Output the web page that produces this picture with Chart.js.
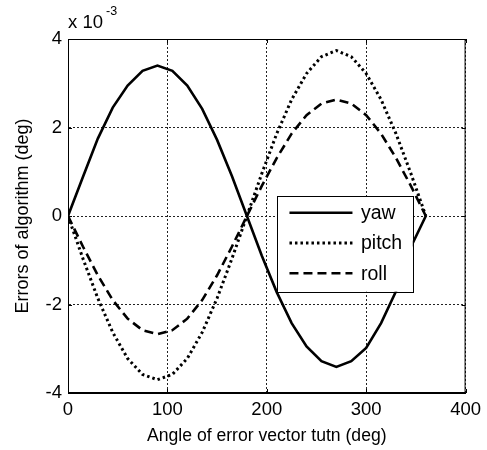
<!DOCTYPE html>
<html>
<head>
<meta charset="utf-8">
<script src="https://cdn.jsdelivr.net/npm/chart.js@4"></script>
<style>
  html, body { margin: 0; padding: 0; background: #fff; }
  #wrap { width: 487px; height: 450px; }
</style>
</head>
<body>
<div id="wrap"><canvas id="errChart" width="487" height="450"></canvas></div>
<script>
// angle of error vector turn (deg)
const angles = [0, 15, 30, 45, 60, 75, 90, 105, 120, 135, 150, 165, 180,
                195, 210, 225, 240, 255, 270, 285, 300, 315, 330, 345, 360];
// errors, in units of 1e-3 deg
const yaw = [0, 0.88, 1.75, 2.45, 2.95, 3.28, 3.4, 3.28, 2.95, 2.42, 1.72, 0.9, 0,
             -0.9, -1.72, -2.42, -2.95, -3.28, -3.41, -3.28, -2.98, -2.42, -1.7, -0.7, 0];
const pitch = [0, -0.96, -1.86, -2.63, -3.22, -3.58, -3.7, -3.58, -3.22, -2.63, -1.86, -0.96, 0,
               0.96, 1.86, 2.63, 3.22, 3.6, 3.74, 3.6, 3.22, 2.63, 1.86, 0.96, 0];
const roll = [0, -0.69, -1.34, -1.9, -2.32, -2.58, -2.67, -2.58, -2.32, -1.9, -1.34, -0.69, 0,
              0.68, 1.31, 1.86, 2.28, 2.54, 2.63, 2.54, 2.28, 1.86, 1.31, 0.68, 0];
const xTicks = [0, 100, 200, 300, 400];
const yTicks = [-4, -2, 0, 2, 4];

const font = 'Liberation Sans, Arial, sans-serif';

const toPts = (ys) => angles.map((a, i) => ({ x: a, y: ys[i] }));

const series = [
  { label: 'yaw', data: yaw, dash: [], width: 2.6 },
  { label: 'pitch', data: pitch, dash: [2.5, 3], width: 3 },
  { label: 'roll', data: roll, dash: [9, 5], width: 2.6 }
];

// box, inward ticks, exponent label and legend, matlab style
const matlabBits = {
  id: 'matlabBits',
  afterDatasetsDraw(chart) {
    const { ctx, chartArea: a, scales } = chart;
    ctx.save();
    ctx.strokeStyle = '#000';
    ctx.lineWidth = 1;
    ctx.setLineDash([]);
    ctx.strokeRect(a.left + 0.5, a.top + 0.5, a.right - a.left - 1, a.bottom - a.top - 1);
    const t = 4;
    ctx.beginPath();
    xTicks.forEach(v => {
      const px = Math.round(scales.x.getPixelForValue(v)) + 0.5;
      ctx.moveTo(px, a.bottom); ctx.lineTo(px, a.bottom - t);
      ctx.moveTo(px, a.top); ctx.lineTo(px, a.top + t);
    });
    yTicks.forEach(v => {
      const py = Math.round(scales.y.getPixelForValue(v)) + 0.5;
      ctx.moveTo(a.left, py); ctx.lineTo(a.left + t, py);
      ctx.moveTo(a.right, py); ctx.lineTo(a.right - t, py);
    });
    ctx.stroke();

    // x 10^-3
    ctx.fillStyle = '#000';
    ctx.textBaseline = 'alphabetic';
    ctx.textAlign = 'left';
    ctx.font = '18.5px ' + font;
    ctx.fillText('x 10', a.left, a.top - 11);
    ctx.font = '12.5px ' + font;
    ctx.fillText('-3', a.left + 38, a.top - 24);

    // legend
    const w = a.right - a.left, h = a.bottom - a.top;
    const lx = a.left + w * 0.5256, ly = a.top + h * 0.4435;
    const lw = w * 0.3416, lh = h * 0.2703;
    ctx.fillStyle = '#fff';
    ctx.fillRect(lx, ly, lw, lh);
    ctx.strokeRect(Math.round(lx) + 0.5, Math.round(ly) + 0.5, Math.round(lw), Math.round(lh));
    ctx.font = '19.5px ' + font;
    ctx.textBaseline = 'middle';
    series.forEach((s, i) => {
      const yy = ly + 16.7 + i * 30.3;
      ctx.beginPath();
      ctx.lineWidth = s.width;
      ctx.setLineDash(s.dash);
      ctx.moveTo(lx + 12.5, yy);
      ctx.lineTo(lx + 75.5, yy);
      ctx.stroke();
      ctx.fillStyle = '#000';
      ctx.fillText(s.label, lx + 84, yy + 1);
    });
    ctx.restore();
  }
};

new Chart(document.getElementById('errChart'), {
  type: 'line',
  data: {
    datasets: series.map(s => ({
      label: s.label,
      data: toPts(s.data),
      borderColor: '#000',
      borderWidth: s.width,
      borderDash: s.dash,
      pointRadius: 0,
      tension: 0,
      fill: false
    }))
  },
  options: {
    responsive: false,
    animation: false,
    layout: { padding: { top: 39, right: 20, left: 0, bottom: 0 } },
    plugins: { legend: { display: false }, tooltip: { enabled: false } },
    scales: {
      x: {
        type: 'linear',
        min: 0, max: 400,
        afterBuildTicks: (s) => { s.ticks = xTicks.map(v => ({ value: v })); },
        afterFit: (s) => { s.height = 57; },
        ticks: { color: '#000', font: { size: 18.5, family: font }, padding: 6, maxRotation: 0 },
        grid: { color: '#222', lineWidth: 1, drawTicks: false },
        border: { display: true, color: '#000', dash: [2, 2] },
        title: { display: true, text: 'Angle of error vector tutn (deg)', color: '#000',
                 font: { size: 17.6, family: font }, padding: { top: 0, bottom: 3 } }
      },
      y: {
        type: 'linear',
        min: -4, max: 4,
        afterBuildTicks: (s) => { s.ticks = yTicks.map(v => ({ value: v })); },
        afterFit: (s) => { s.width = 68; },
        ticks: { color: '#000', font: { size: 18.5, family: font }, padding: 6 },
        grid: { color: '#222', lineWidth: 1, drawTicks: false },
        border: { display: true, color: '#000', dash: [2, 2] },
        title: { display: true, text: 'Errors of algorithm (deg)', color: '#000',
                 font: { size: 18, family: font }, padding: { top: 12, bottom: 0 } }
      }
    }
  },
  plugins: [matlabBits]
});
</script>
</body>
</html>
